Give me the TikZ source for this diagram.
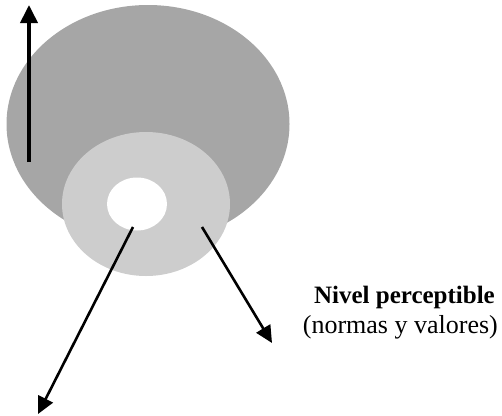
\documentclass[tikz,border=0pt]{standalone}
\usepackage{fontspec}
\setmainfont{Liberation Serif}
\usetikzlibrary{shapes.geometric,arrows.meta}
\definecolor{outergray}{HTML}{A6A6A6}
\definecolor{ringgray}{HTML}{CDCDCD}
\tikzset{
  blob/.style={ellipse, inner sep=0pt, draw=none},
  pointer/.style={line width=2.6pt, -{Triangle[length=17pt,width=16pt]}},
  uparrow/.style={line width=3.8pt, -{Triangle[length=18pt,width=17pt]}},
  lbl/.style={inner sep=0pt, anchor=base east}
}
\begin{document}
\begin{tikzpicture}[x=1pt,y=-1pt]
\useasboundingbox (0,0) rectangle (502,415);
\node[blob, fill=outergray, minimum width=283pt, minimum height=238pt] (outer) at (148,124) {};
\node[blob, fill=ringgray, minimum width=168pt, minimum height=144pt] (ring) at (146,204) {};
\node[blob, fill=white, minimum width=60pt, minimum height=53pt] (core) at (137,204) {};
\coordinate (upstart) at (29,162);
\coordinate (uptip) at (29,5);
\coordinate (corestart) at (133,227);
\coordinate (coretip) at (38,414);
\coordinate (ringstart) at (202,227);
\coordinate (ringtip) at (272,343);
\draw[uparrow] (upstart) -- (uptip);
\draw[pointer] (corestart) -- (coretip);
\draw[pointer] (ringstart) -- (ringtip);
\node[lbl, font=\fontsize{25}{29}\selectfont\bfseries] (t1) at (495,303) {Nivel perceptible};
\node[lbl, font=\fontsize{26}{30}\selectfont] (t2) at (498,333) {(normas y valores)};
\end{tikzpicture}
\end{document}
